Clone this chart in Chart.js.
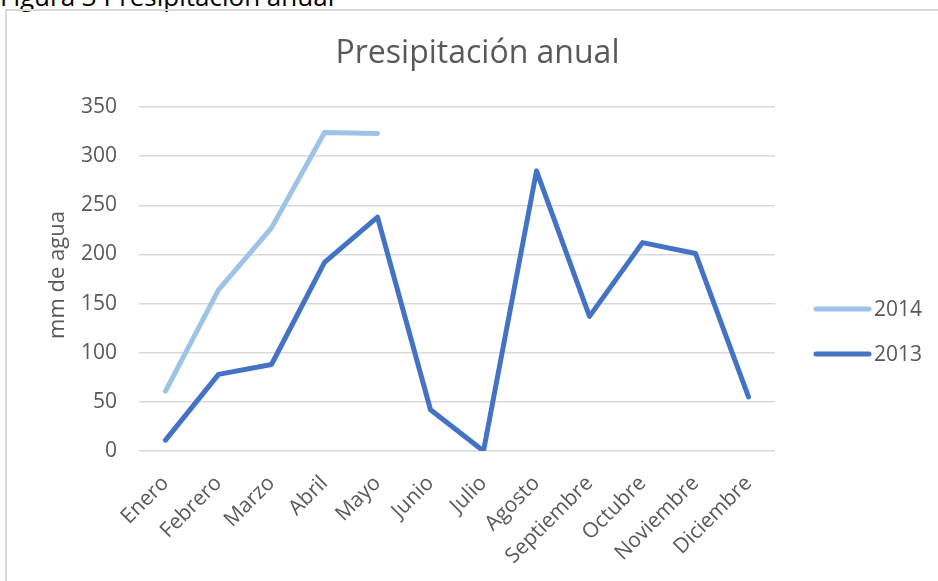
<!DOCTYPE html>
<html>
<head>
<meta charset="utf-8">
<script src="https://cdn.jsdelivr.net/npm/chart.js@4"></script>
<style>
  html, body { margin:0; padding:0; background:#fff; width:938px; height:581px; overflow:hidden; }
  #caption { position:absolute; left:0; top:-17px; font-family:"Open Sans"; font-size:26px; line-height:26px; color:#000; white-space:nowrap; }
  #frame { position:absolute; left:5px; top:9px; width:1000px; height:1000px; border:2px solid #D9D9D9; box-sizing:border-box; }
  #wrap { position:absolute; left:0; top:0; width:938px; height:581px; }
</style>
</head>
<body>
<div id="caption">Figura 3 Presipitación anual</div>
<div id="frame"></div>
<div id="wrap"><canvas id="c" width="938" height="581"></canvas></div>
<script>
const categories = ["Enero","Febrero","Marzo","Abril","Mayo","Junio","Julio","Agosto","Septiembre","Octubre","Noviembre","Diciembre"];
const values2014 = [61, 164, 227, 324, 323, null, null, null, null, null, null, null];
const values2013 = [11, 78, 88, 192, 238, 42, 0, 285, 137, 212, 201, 55];
const seriesNames = ["2014", "2013"];
const yTicks = [0, 50, 100, 150, 200, 250, 300, 350];
const chartTitle = "Presipitación anual";
const yAxisTitle = "mm de agua";

const FONT = "'Open Sans'";
const GREY = "#595959";

const overlay = {
  id: 'overlay',
  afterDraw(chart) {
    const ctx = chart.ctx;
    ctx.save();
    // title
    ctx.fillStyle = GREY;
    ctx.font = "32px " + FONT;
    ctx.textAlign = 'center';
    ctx.textBaseline = 'alphabetic';
    ctx.fillText(chartTitle, 477.5, 63);
    // y axis title
    ctx.save();
    ctx.translate(58, 275);
    ctx.rotate(-Math.PI / 2);
    ctx.font = "22px " + FONT;
    ctx.textAlign = 'center';
    ctx.textBaseline = 'middle';
    ctx.fillText(yAxisTitle, 0, 0);
    ctx.restore();
    // legend
    const ys = [309, 354];
    chart.data.datasets.forEach((ds, i) => {
      ctx.strokeStyle = ds.borderColor;
      ctx.lineWidth = 5;
      ctx.lineCap = 'round';
      ctx.beginPath();
      ctx.moveTo(816, ys[i]);
      ctx.lineTo(869, ys[i]);
      ctx.stroke();
      ctx.fillStyle = GREY;
      ctx.font = "21px " + FONT;
      ctx.textAlign = 'left';
      ctx.textBaseline = 'middle';
      ctx.fillText(ds.label, 874, ys[i] + 1);
    });
    ctx.restore();
  }
};

new Chart(document.getElementById('c'), {
  type: 'line',
  data: {
    labels: categories,
    datasets: [
      { label: seriesNames[0], data: values2014, borderColor: '#9DC3E6', backgroundColor: '#9DC3E6',
        borderWidth: 5, pointRadius: 0, borderCapStyle: 'round', borderJoinStyle: 'round', tension: 0, spanGaps: false },
      { label: seriesNames[1], data: values2013, borderColor: '#4472C4', backgroundColor: '#4472C4',
        borderWidth: 5, pointRadius: 0, borderCapStyle: 'round', borderJoinStyle: 'round', tension: 0 }
    ]
  },
  options: {
    responsive: false,
    animation: false,
    events: [],
    layout: { padding: { left: 0, right: 163, top: 107, bottom: 0 } },
    plugins: { legend: { display: false }, title: { display: false }, tooltip: { enabled: false } },
    scales: {
      x: {
        offset: true,
        grid: { display: false, drawTicks: false },
        border: { display: false },
        ticks: { autoSkip: false, minRotation: 45, maxRotation: 45, padding: 20, color: GREY, font: { family: FONT, size: 21 } },
        afterFit: s => { s.height = 130; }
      },
      y: {
        min: 0, max: 350,
        afterBuildTicks: s => { s.ticks = yTicks.map(v => ({ value: v })); },
        grid: { color: '#D9D9D9', lineWidth: 1.5, drawTicks: false },
        border: { display: false },
        ticks: { padding: 22, color: GREY, font: { family: FONT, size: 21 } },
        afterFit: s => { s.width = 139; }
      }
    }
  },
  plugins: [overlay]
});
</script>
</body>
</html>
